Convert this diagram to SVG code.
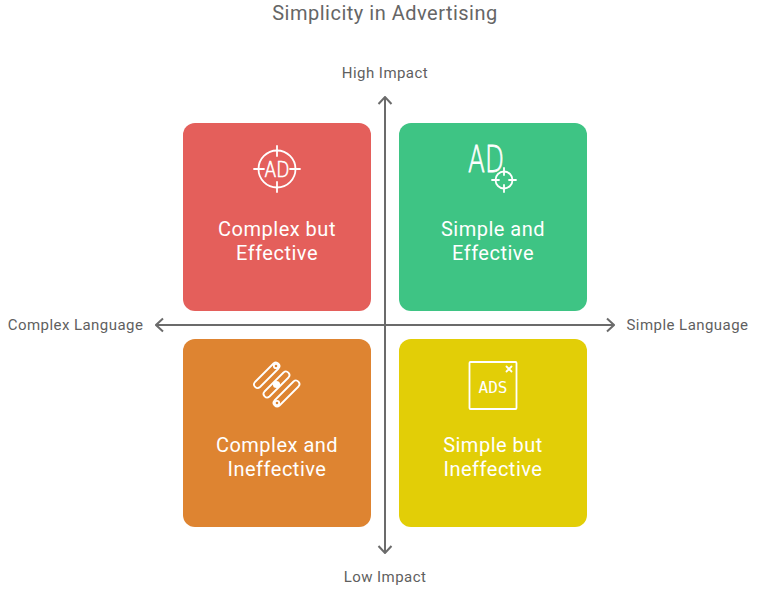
<svg xmlns="http://www.w3.org/2000/svg" width="758" height="590" viewBox="0 0 758 590">
  <style>
    text { font-family: Roboto, "Liberation Sans", sans-serif; }
    .title { font-size: 20px; letter-spacing: 0.5px; fill: #666666; text-anchor: middle; }
    .axis-label { font-size: 15px; letter-spacing: 0.45px; fill: #5f5f5f; text-anchor: middle; }
    .card-label { font-size: 20px; letter-spacing: 0.5px; fill: #ffffff; text-anchor: middle; }
    .axis { fill: none; stroke: #6b6b6b; stroke-width: 2; }
    .icon { fill: none; stroke: #ffffff; stroke-width: 1.8; stroke-linecap: round; stroke-linejoin: round; }
    .glyph { font-family: "DejaVu Sans", sans-serif; font-weight: 200; fill: #ffffff; stroke: #ffffff; text-anchor: middle; }
    .mono { font-family: "DejaVu Sans Mono", monospace; font-size: 16px; fill: #ffffff; text-anchor: middle; }
  </style>
  <defs>
    <marker id="head" viewBox="-9 -8 10 16" markerWidth="10" markerHeight="16" refX="0" refY="0" orient="auto" markerUnits="userSpaceOnUse">
      <path d="M-7 -6.500 L0 0 L-7 6.500" fill="none" stroke="#6b6b6b" stroke-width="2"/>
    </marker>
  </defs>

  <text class="title" x="385" y="20">Simplicity in Advertising</text>

  <g id="quadrant-complex-effective">
    <rect x="183" y="123" width="188" height="188" rx="12" fill="#e45f5b"/>
    <circle class="icon" cx="277" cy="169" r="18.500"/>
    <path class="icon" d="M277 146V156M277 182V192M254 169H264M290 169H300"/>
    <text class="glyph" x="277" y="177" font-size="22" stroke-width="0.700" textLength="25" lengthAdjust="spacingAndGlyphs">AD</text>
    <text class="card-label" x="277" y="236">Complex but</text>
    <text class="card-label" x="277" y="260">Effective</text>
  </g>

  <g id="quadrant-simple-effective">
    <rect x="399" y="123" width="188" height="188" rx="12" fill="#3ec484"/>
    <text class="glyph" x="486" y="172" font-size="37" stroke-width="0.800" textLength="36" lengthAdjust="spacingAndGlyphs">AD</text>
    <circle class="icon" cx="504" cy="180" r="8.500"/>
    <path class="icon" d="M504 168V175M504 185V192M492 180H499M509 180H516"/>
    <text class="card-label" x="493" y="236">Simple and</text>
    <text class="card-label" x="493" y="260">Effective</text>
  </g>

  <g id="quadrant-complex-ineffective">
    <rect x="183" y="339" width="188" height="188" rx="12" fill="#de8431"/>
    <path class="icon" d="M273.500 363.500L255 382A3.540 3.540 0 0 0 260 387L278.500 368.500A3.540 3.540 0 0 0 273.500 363.500Z"/>
    <path class="icon" d="M283.500 372.500L264.500 391.500A3.540 3.540 0 0 0 269.500 396.500L288.500 377.500A3.540 3.540 0 0 0 283.500 372.500Z"/>
    <path class="icon" d="M293.500 381.500L274.500 400.500A3.540 3.540 0 0 0 279.500 405.500L298.500 386.500A3.540 3.540 0 0 0 293.500 381.500Z"/>
    <circle class="icon" cx="276" cy="366" r="2.200"/>
    <circle cx="276.500" cy="384.500" r="3.600" fill="#ffffff"/>
    <circle class="icon" cx="277" cy="403" r="2.200"/>
    <text class="card-label" x="277" y="452">Complex and</text>
    <text class="card-label" x="277" y="476">Ineffective</text>
  </g>

  <g id="quadrant-simple-ineffective">
    <rect x="399" y="339" width="188" height="188" rx="12" fill="#e2ce07"/>
    <rect class="icon" x="469.500" y="362" width="47" height="47" rx="1"/>
    <path class="icon" d="M506.500 366.500L511.500 371.500M511.500 366.500L506.500 371.500"/>
    <text class="mono" x="493" y="392.500" textLength="29" lengthAdjust="spacingAndGlyphs">ADS</text>
    <text class="card-label" x="493" y="452">Simple but</text>
    <text class="card-label" x="493" y="476">Ineffective</text>
  </g>

  <g id="connectors">
    <path class="axis" d="M385 325V97" marker-end="url(#head)"/>
    <path class="axis" d="M385 325V553" marker-end="url(#head)"/>
    <path class="axis" d="M385 325H156" marker-end="url(#head)"/>
    <path class="axis" d="M385 325H614" marker-end="url(#head)"/>
  </g>

  <text class="axis-label" x="385" y="78">High Impact</text>
  <text class="axis-label" x="385" y="582">Low Impact</text>
  <text class="axis-label" x="75.500" y="330">Complex Language</text>
  <text class="axis-label" x="687.500" y="330">Simple Language</text>
</svg>
